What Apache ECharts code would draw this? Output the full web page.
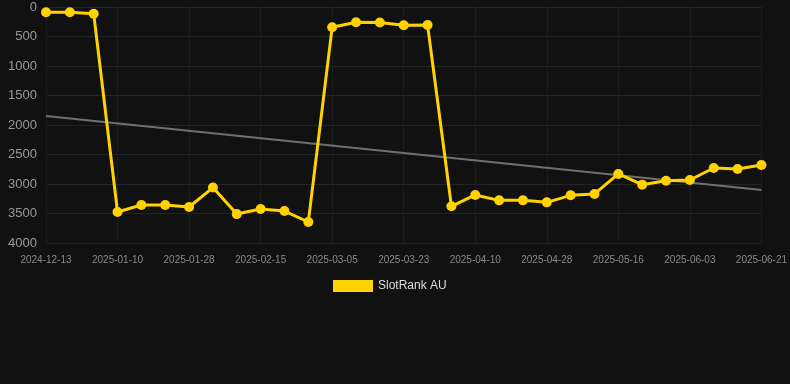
<!DOCTYPE html>
<html>
<head>
<meta charset="utf-8">
<script src="https://cdn.jsdelivr.net/npm/echarts@6/dist/echarts.min.js"></script>
<style>
html,body{margin:0;padding:0;background:#111111;}
#chart{width:790px;height:384px;}
</style>
</head>
<body>
<div id="chart"></div>
<script>
const categories = [
  '2024-12-13','2024-12-22','2025-01-01','2025-01-10','2025-01-16','2025-01-22',
  '2025-01-28','2025-02-03','2025-02-09','2025-02-15','2025-02-21','2025-02-27',
  '2025-03-05','2025-03-11','2025-03-17','2025-03-23','2025-03-29','2025-04-04',
  '2025-04-10','2025-04-16','2025-04-22','2025-04-28','2025-05-04','2025-05-10',
  '2025-05-16','2025-05-22','2025-05-28','2025-06-03','2025-06-09','2025-06-15',
  '2025-06-21'
];
const rankValues = [
  90, 90, 115, 3475, 3356, 3356,
  3390, 3060, 3510, 3424, 3458, 3644,
  342, 258, 262, 308, 306, 3378,
  3186, 3277, 3277, 3311, 3192, 3169,
  2830, 3011, 2944, 2932, 2729, 2746,
  2678
];
const trendStart = 1847;
const trendEnd = 3102;
const yTicks = [0, 500, 1000, 1500, 2000, 2500, 3000, 3500, 4000];

const chart = echarts.init(document.getElementById('chart'));
chart.setOption({
  backgroundColor: '#111111',
  animation: false,
  grid: { left: 46, right: 28, top: 7, bottom: 141, containLabel: false },
  legend: {
    data: ['SlotRank AU'],
    top: 275,
    left: 328,
    itemWidth: 40,
    itemHeight: 12,
    icon: 'rect',
    textStyle: { color: '#dddddd', fontSize: 12, fontFamily: 'Liberation Sans, Arial, sans-serif' }
  },
  xAxis: {
    type: 'category',
    data: categories,
    boundaryGap: false,
    axisLine: { show: false },
    axisTick: { show: false },
    axisLabel: {
      interval: 2,
      color: '#8a8a8a',
      fontSize: 10,
      margin: 12,
      fontFamily: 'Liberation Sans, Arial, sans-serif'
    },
    splitLine: { show: true, interval: 2, lineStyle: { color: '#1c1c1c', width: 1 } }
  },
  yAxis: {
    type: 'value',
    inverse: true,
    min: yTicks[0],
    max: yTicks[yTicks.length - 1],
    interval: 500,
    axisLine: { show: false },
    axisTick: { show: false },
    axisLabel: {
      color: '#9a9a9a',
      fontSize: 13,
      margin: 9,
      formatter: function (v) { return String(v); },
      fontFamily: 'Liberation Sans, Arial, sans-serif'
    },
    splitLine: { show: true, lineStyle: { color: '#232323', width: 1 } }
  },
  series: [
    {
      name: 'SlotRank AU',
      type: 'line',
      data: rankValues,
      symbol: 'circle',
      symbolSize: 10,
      itemStyle: { color: '#FFD200' },
      lineStyle: { color: '#FFD200', width: 3 },
      z: 3
    },
    {
      name: 'trend',
      type: 'line',
      data: [[0, trendStart], [categories.length - 1, trendEnd]],
      symbol: 'none',
      lineStyle: { color: '#707070', width: 2 },
      z: 2,
      silent: true
    }
  ]
});
</script>
</body>
</html>
